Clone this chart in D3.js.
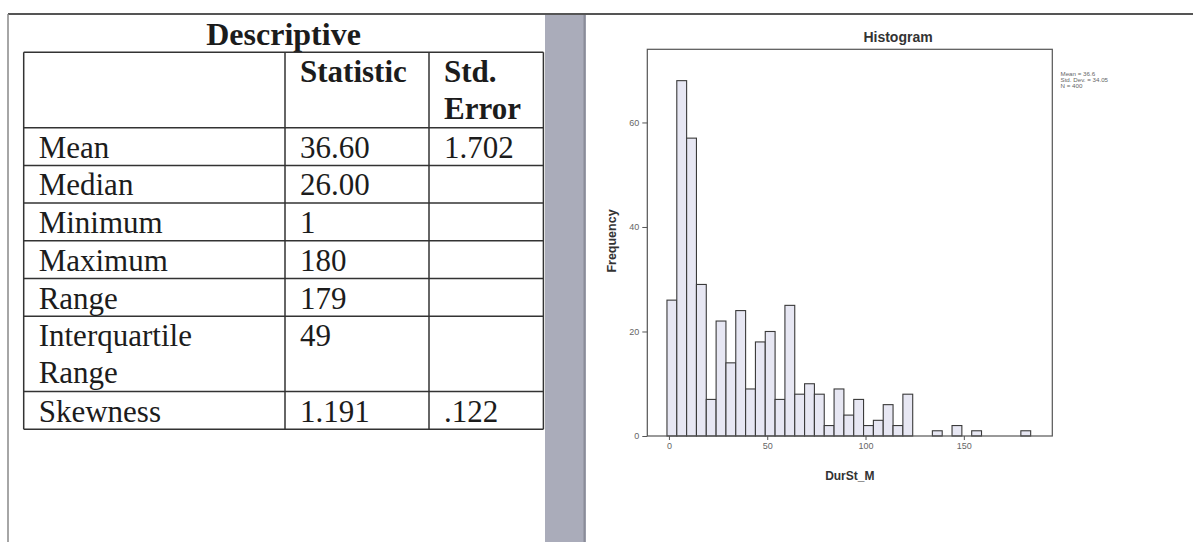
<!DOCTYPE html>
<html>
<head>
<meta charset="utf-8">
<script src="https://cdn.jsdelivr.net/npm/d3@7"></script>
<style>
  body { margin: 0; background: #fff; }
  svg { display: block; }
</style>
</head>
<body>
<script>
// table data
var tableTitle = "Descriptive";
var colHeads = [[""], ["Statistic"], ["Std.", "Error"]];
var rowLabels = [["Mean"], ["Median"], ["Minimum"], ["Maximum"], ["Range"], ["Interquartile", "Range"], ["Skewness"]];
var statValues = ["36.60", "26.00", "1", "180", "179", "49", "1.191"];
var stdErrors = ["1.702", "", "", "", "", "", ".122"];

// histogram data (bins of width 5 starting at -1)
var binStart = -1;
var binWidth = 5;
var counts = [26, 68, 57, 29, 7, 22, 14, 24, 9, 18, 20, 7, 25, 8, 10, 8, 2, 9, 4, 7, 2, 3, 6, 2, 8, 0, 0, 1, 0, 2, 0, 1, 0, 0, 0, 0, 1];
var xTicks = [0, 50, 100, 150];
var yTicks = [0, 20, 40, 60];
var legendLines = ["Mean = 36.6", "Std. Dev. = 34.05", "N = 400"];

var W = 1193, H = 542;
var svg = d3.select("body").append("svg").attr("width", W).attr("height", H);
svg.append("rect").attr("width", W).attr("height", H).attr("fill", "#fff");

// outer frame + grey divider
svg.append("rect").attr("x", 545).attr("y", 14).attr("width", 41).attr("height", H - 14).attr("fill", "#aaacba");
svg.append("line").attr("x1", 584.5).attr("x2", 584.5).attr("y1", 14).attr("y2", H).attr("stroke", "#8a8c98").attr("stroke-width", 2);
svg.append("line").attr("x1", 8).attr("x2", W).attr("y1", 14).attr("y2", 14).attr("stroke", "#555").attr("stroke-width", 2);
svg.append("line").attr("x1", 8).attr("x2", 8).attr("y1", 14).attr("y2", H).attr("stroke", "#888").attr("stroke-width", 1.5);

// ---- table ----
var colX = [23.7, 285, 429, 543.4];
var nLines = [2].concat(rowLabels.map(function(d){ return d.length; }));
var cum = [0];
nLines.forEach(function(n, i){ cum.push(cum[i] + n); });
var rowY = d3.scaleLinear().domain([0, cum[cum.length - 1]]).range([52.3, 429.3]);
var lineStep = 36.8;
var serif = "'Liberation Serif', 'Times New Roman', serif";
var tg = svg.append("g").attr("font-family", serif).attr("fill", "#1c1c1c");

tg.append("text").attr("x", (colX[0] + colX[3]) / 2).attr("y", 45)
  .attr("text-anchor", "middle").attr("font-size", 32).attr("font-weight", "bold").text(tableTitle);

// grid lines
tg.selectAll("line.h").data(cum).enter().append("line").attr("class", "h")
  .attr("x1", colX[0]).attr("x2", colX[3])
  .attr("y1", function(d){ return rowY(d); }).attr("y2", function(d){ return rowY(d); })
  .attr("stroke", "#333").attr("stroke-width", 1.5);
tg.selectAll("line.v").data(colX).enter().append("line").attr("class", "v")
  .attr("x1", function(d){ return d; }).attr("x2", function(d){ return d; })
  .attr("y1", rowY(0)).attr("y2", rowY(cum[cum.length - 1]))
  .attr("stroke", "#333").attr("stroke-width", 1.5);

function cellText(lines, col, rowIdx, bold){
  var t = tg.append("text").attr("font-size", 31).attr("font-weight", bold ? "bold" : "normal");
  lines.forEach(function(s, k){
    t.append("tspan").attr("x", colX[col] + 15).attr("y", rowY(cum[rowIdx]) + 30 + k * lineStep).text(s);
  });
}
colHeads.forEach(function(h, c){ cellText(h, c, 0, true); });
rowLabels.forEach(function(r, i){
  cellText(r, 0, i + 1, false);
  cellText([statValues[i]], 1, i + 1, false);
  cellText([stdErrors[i]], 2, i + 1, false);
});

// ---- histogram ----
var sans = "'Liberation Sans', Arial, sans-serif";
var x = d3.scaleLinear().domain([-11, 195]).range([647.3, 1052.3]);
var y = d3.scaleLinear().domain([0, 74]).range([436, 49.3]);

var hg = svg.append("g").attr("font-family", sans);

hg.append("text").attr("x", 898).attr("y", 41.7).attr("text-anchor", "middle")
  .attr("font-size", 14).attr("font-weight", "bold").attr("fill", "#333").text("Histogram");

var bins = counts.map(function(c, i){ return {x0: binStart + i * binWidth, x1: binStart + (i + 1) * binWidth, n: c}; })
  .filter(function(d){ return d.n > 0; });

hg.selectAll("rect.bar").data(bins).enter().append("rect").attr("class", "bar")
  .attr("x", function(d){ return x(d.x0); })
  .attr("width", function(d){ return x(d.x1) - x(d.x0); })
  .attr("y", function(d){ return y(d.n); })
  .attr("height", function(d){ return y(0) - y(d.n); })
  .attr("fill", "#e7e7f3").attr("stroke", "#3a3a3a").attr("stroke-width", 1.1);

// frame
hg.append("rect").attr("x", x(-11)).attr("y", y(74)).attr("width", x(195) - x(-11)).attr("height", y(0) - y(74))
  .attr("fill", "none").attr("stroke", "#555").attr("stroke-width", 1.2);

var yAxis = d3.axisLeft(y).tickValues(yTicks).tickSize(5).tickPadding(3);
var xAxis = d3.axisBottom(x).tickValues(xTicks).tickSize(4).tickPadding(3);

var ya = hg.append("g").attr("transform", "translate(" + x(-11) + ",0)").call(yAxis);
var xa = hg.append("g").attr("transform", "translate(0," + y(0) + ")").call(xAxis);
[ya, xa].forEach(function(a){
  a.select(".domain").remove();
  a.selectAll("line").attr("stroke", "#555");
  a.selectAll("text").attr("font-family", sans).attr("font-size", 9).attr("fill", "#666");
});

hg.append("text").attr("transform", "translate(616,241) rotate(-90)").attr("text-anchor", "middle")
  .attr("font-size", 12.5).attr("font-weight", "bold").attr("fill", "#333").text("Frequency");
hg.append("text").attr("x", (x(-11) + x(195)) / 2).attr("y", 480).attr("text-anchor", "middle")
  .attr("font-size", 12).attr("font-weight", "bold").attr("fill", "#333").text("DurSt_M");

hg.selectAll("text.leg").data(legendLines).enter().append("text").attr("class", "leg")
  .attr("x", 1060.5).attr("y", function(d, i){ return 75.5 + i * 6.2; })
  .attr("font-size", 6.2).attr("fill", "#666").text(function(d){ return d; });
</script>
</body>
</html>
